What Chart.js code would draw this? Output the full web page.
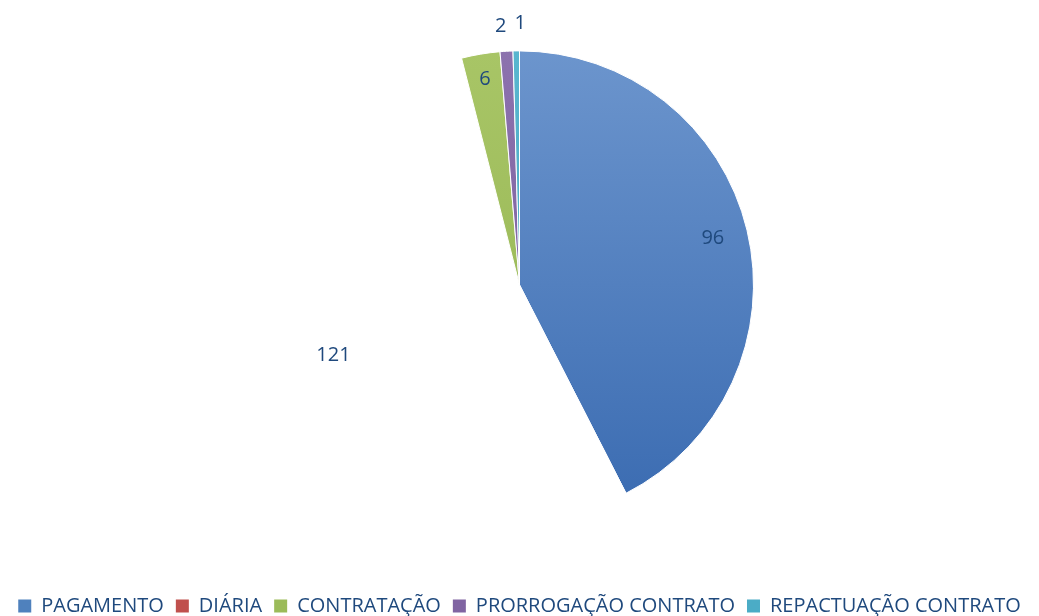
<!DOCTYPE html>
<html><head><meta charset="utf-8">
<script src="https://cdn.jsdelivr.net/npm/chart.js@4/dist/chart.umd.min.js"></script>
<style>html,body{margin:0;padding:0;background:#fff}#wrap{width:1039px;height:616px}</style>
</head><body><div id="wrap"><canvas id="c" width="1039" height="616"></canvas></div>
<script>
const categories = ["PAGAMENTO", "DIÁRIA", "CONTRATAÇÃO", "PRORROGAÇÃO CONTRATO", "REPACTUAÇÃO CONTRATO"];
const values = [96, 121, 6, 2, 1];
const legendColors = ["#4F81BD", "#C0504D", "#9BBB59", "#8064A2", "#4BACC6"];
const gradTop = ["#6C95CD", null, "#A8C566", "#8C72AE", "#58B6CF"];
const gradBottom = ["#3A6BB1", null, "#93B350", "#765A98", "#43A2BC"];
const textColor = "#1F497D";
const FONT = "'Open Sans', 'DejaVu Sans', sans-serif";

const labelPlugin = {
  id: 'valueLabels',
  afterDatasetsDraw(chart) {
    const ctx = chart.ctx;
    const meta = chart.getDatasetMeta(0);
    ctx.save();
    ctx.font = "20px " + FONT;
    ctx.fillStyle = textColor;
    ctx.textAlign = 'center';
    ctx.textBaseline = 'middle';
    const pos = meta.data.map((arc, i) => {
      const p = arc.getProps(['x','y','startAngle','endAngle','outerRadius'], true);
      const mid = (p.startAngle + p.endAngle) / 2;
      const span = p.endAngle - p.startAngle;
      const outside = span < 0.06;
      const r = outside ? p.outerRadius + 25 : (span < 0.2 ? p.outerRadius * 0.89 : p.outerRadius * 0.85);
      return { x: p.x + Math.cos(mid) * r, y: p.y + Math.sin(mid) * r, outside, w: ctx.measureText(String(values[i])).width };
    });
    // separate overlapping outside labels
    for (let i = 1; i < pos.length; i++) {
      const a = pos[i - 1], b = pos[i];
      if (a.outside && b.outside) {
        const need = (a.w + b.w) / 2 + 8;
        const d = b.x - a.x;
        if (Math.abs(d) < need) {
          const push = (need - Math.abs(d)) / 2;
          a.x -= push; b.x += push;
          b.y -= 3;
        }
      }
    }
    pos.forEach((q, i) => ctx.fillText(String(values[i]), q.x, q.y));
    ctx.restore();
  }
};

new Chart(document.getElementById('c'), {
  type: 'pie',
  data: {
    labels: categories,
    datasets: [{
      data: values,
      backgroundColor(c) {
        const i = c.dataIndex;
        if (gradTop[i] === null) return 'rgba(0,0,0,0)';
        const area = c.chart.chartArea;
        if (!area) return legendColors[i];
        const g = c.chart.ctx.createLinearGradient(0, 50, 0, 518);
        g.addColorStop(0, gradTop[i]);
        g.addColorStop(1, gradBottom[i]);
        return g;
      },
      borderColor: '#ffffff',
      borderWidth: 1,
      radius: 234
    }]
  },
  options: {
    responsive: false,
    animation: false,
    layout: { padding: { top: 0, bottom: -10, left: 0, right: 0 } },
    plugins: {
      tooltip: { enabled: false },
      legend: {
        position: 'bottom',
        title: { display: true, text: '', font: { size: 1 }, padding: { top: 0, bottom: 13 } },
        labels: {
          color: textColor,
          font: { family: FONT, size: 20 },
          boxWidth: 13,
          boxHeight: 13,
          padding: 12,
          generateLabels(chart) {
            return categories.map((t, i) => ({
              text: t, fillStyle: legendColors[i], strokeStyle: legendColors[i],
              lineWidth: 0, hidden: false, index: i, fontColor: textColor
            }));
          }
        }
      }
    }
  },
  plugins: [labelPlugin]
});
</script>
</body></html>
